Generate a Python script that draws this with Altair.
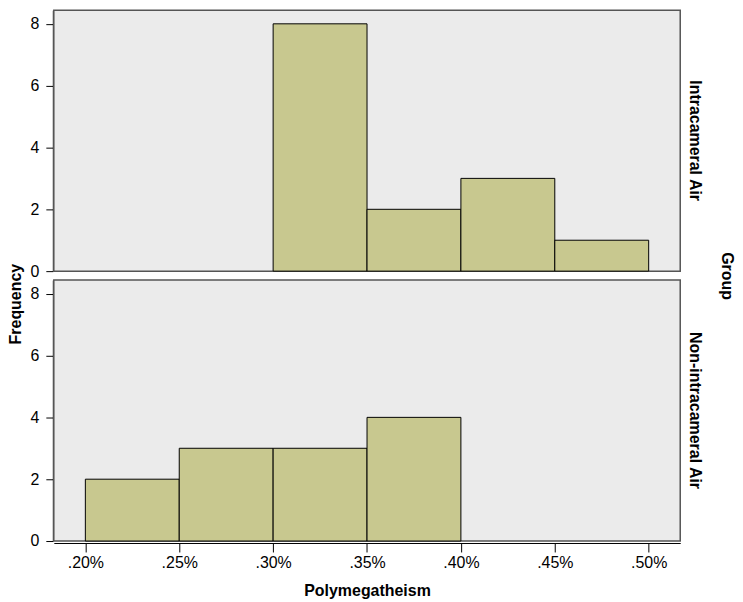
import altair as alt
import pandas as pd

groups = ["Intracameral Air"] * 4 + ["Non-intracameral Air"] * 4
bin_start = [0.30, 0.35, 0.40, 0.45, 0.20, 0.25, 0.30, 0.35]
bin_end = [0.35, 0.40, 0.45, 0.50, 0.25, 0.30, 0.35, 0.40]
counts = [8, 2, 3, 1, 2, 3, 3, 4]
x_ticks = [0.20, 0.25, 0.30, 0.35, 0.40, 0.45, 0.50]
y_ticks = [0, 2, 4, 6, 8]

df = pd.DataFrame({"Group": groups, "start": bin_start, "end": bin_end, "count": counts})

FONT = "Liberation Sans"

chart = alt.Chart(df).mark_bar(
    color="#c8c88f", stroke="black", strokeWidth=1
).encode(
    x=alt.X("start:Q", title="Polymegatheism",
            scale=alt.Scale(domain=[0.1832, 0.5168], nice=False, zero=False),
            axis=alt.Axis(values=x_ticks,
                          labelExpr="replace(format(datum.value, '.2f'), '0.', '.') + '%'",
                          grid=False, tickSize=9, domainColor="black", tickColor="black",
                          labelPadding=3, titlePadding=12)),
    x2="end:Q",
    y=alt.Y("count:Q", title=None,
            scale=alt.Scale(domain=[0, 8.44], nice=False),
            axis=alt.Axis(values=y_ticks, grid=False, tickSize=7, domainColor="black",
                          tickColor="black", labelPadding=7)),
    y2=alt.datum(0),
    row=alt.Row("Group:N", title="Group", sort=["Intracameral Air", "Non-intracameral Air"],
                header=alt.Header(labelOrient="right", labelAngle=90, titleOrient="right",
                                  titleAngle=90, labelFont=FONT, titleFont=FONT,
                                  labelFontSize=16, labelFontWeight="bold", titleFontSize=16,
                                  titleFontWeight="bold", labelPadding=6, titlePadding=6,
                                  labelColor="black", titleColor="black")),
).properties(
    width=629, height=262, padding=0,
    title=alt.TitleParams("Frequency", orient="left", anchor="middle", font=FONT,
                          fontSize=16, fontWeight="bold", color="black", offset=6)
).configure_facet(
    spacing=6
).configure_view(
    fill="#ebebeb", stroke="#555555", strokeWidth=1.5
).configure_axis(
    labelFont=FONT, titleFont=FONT, labelFontSize=16, titleFontSize=16,
    titleFontWeight="bold", labelColor="black", titleColor="black"
)

chart.save("out.html", embed_options={"renderer": "svg", "actions": False})
